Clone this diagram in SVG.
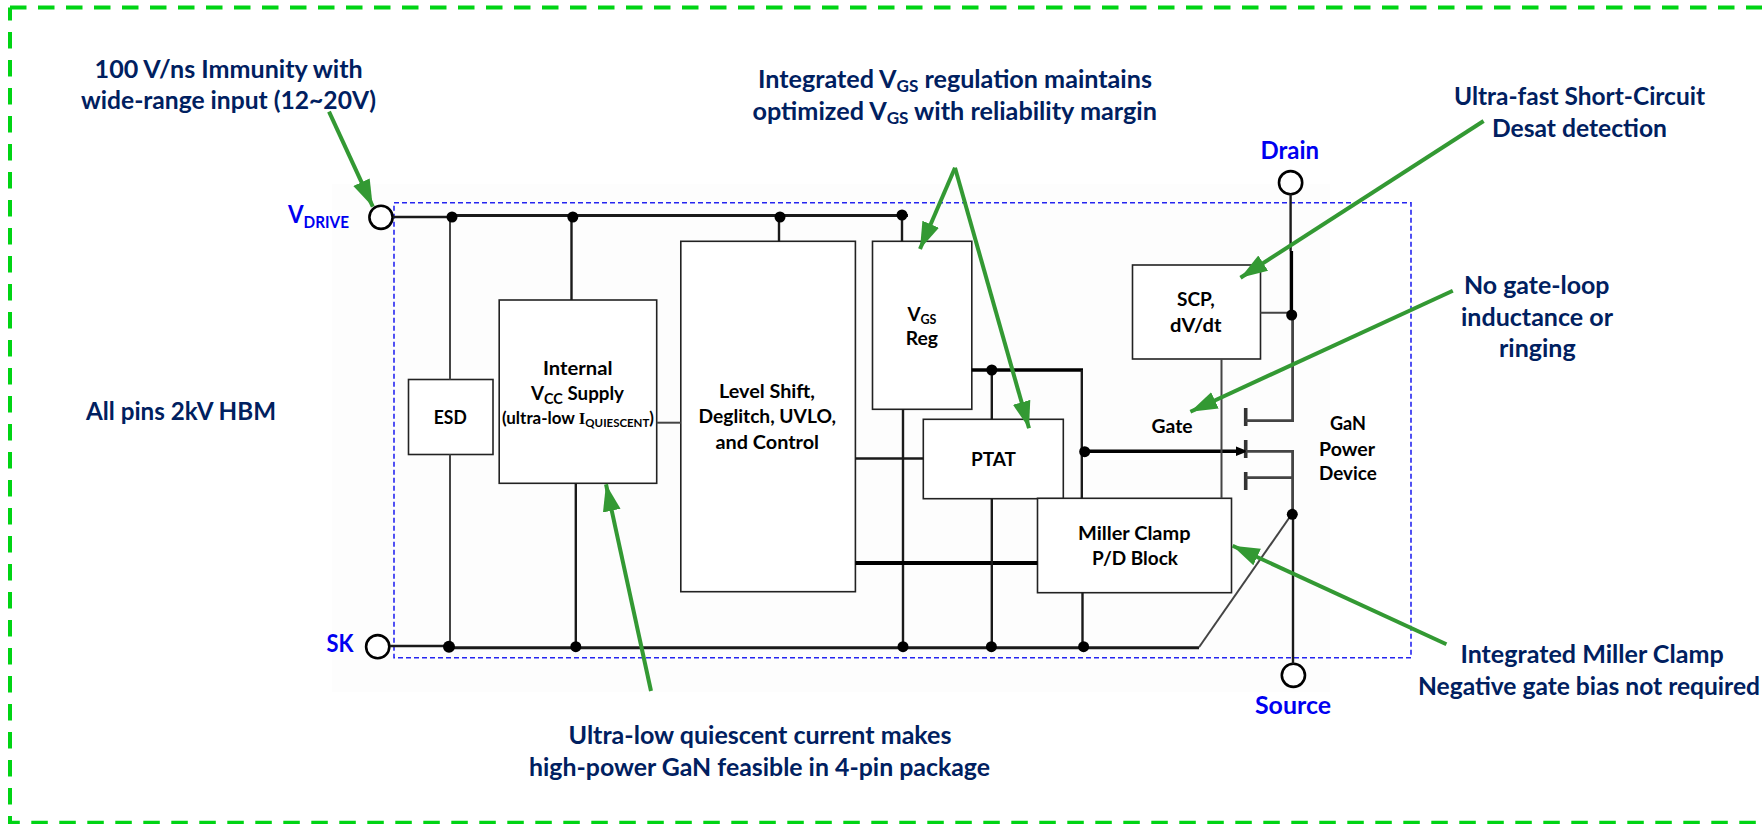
<svg xmlns="http://www.w3.org/2000/svg" width="1762" height="824" viewBox="0 0 1762 824">
<style>
text{font-family:Lato,"Liberation Sans",sans-serif;font-weight:700}
.note{font-size:25px;fill:#002060}
.pin{font-size:25px;fill:#0000f0}
.lbl{font-size:19.5px;fill:#000}
.box{fill:#fff;stroke:#222;stroke-width:1.6}
.ring{fill:#fff;stroke:#000;stroke-width:2.6}
.w{fill:none;stroke:#1a1a1a;stroke-width:2.4}
.r{fill:none;stroke:#1a1a1a;stroke-width:3}
.g{fill:none;stroke:#444;stroke-width:2}
.t{fill:none;stroke:#000;stroke-width:3.4}
.bar{fill:none;stroke:#333;stroke-width:3.6}
.d{fill:#000}
.a{fill:none;stroke:#339933;stroke-width:4;marker-end:url(#ah)}
.edge{fill:none;stroke:#00d414;stroke-width:4;stroke-dasharray:16.5 11.5}
</style>
<defs>
<marker id="ah" markerUnits="userSpaceOnUse" markerWidth="28" markerHeight="20" refX="27" refY="10" orient="auto">
<path d="M0 1L27 10L0 19z" fill="#339933"/>
</marker>
</defs>
<rect x="332" y="184" width="998" height="508" fill="#fdfdfd"/>
<path class="edge" d="M10 7.5H1762"/>
<path class="edge" d="M10 7.5V822.7H1762" stroke-dashoffset="3.5"/>
<rect x="394" y="202.7" width="1017" height="455" fill="none" stroke="#2626f0" stroke-width="1.6" stroke-dasharray="5 3"/>

<g id="pin-vdrive">
<circle class="ring" cx="381" cy="217.3" r="11.6"/>
<text class="pin" x="288" y="222.7" textLength="61" lengthAdjust="spacingAndGlyphs">V<tspan font-size="17" dy="5.5">DRIVE</tspan></text>
</g>
<g id="pin-sk">
<circle class="ring" cx="377.7" cy="646.7" r="11.6"/>
<text class="pin" x="326.6" y="651.7" textLength="27" lengthAdjust="spacingAndGlyphs">SK</text>
</g>
<g id="pin-drain">
<circle class="ring" cx="1290.6" cy="182.7" r="11.6"/>
<text class="pin" x="1260.5" y="159.3" textLength="58.5" lengthAdjust="spacingAndGlyphs">Drain</text>
</g>
<g id="pin-source">
<circle class="ring" cx="1293.4" cy="675.3" r="11.6"/>
<text class="pin" x="1255" y="714.3" textLength="76" lengthAdjust="spacingAndGlyphs">Source</text>
</g>

<g id="esd">
<rect class="box" x="408.5" y="379.5" width="84.5" height="75"/>
<text class="lbl" x="433.8" y="424" textLength="33" lengthAdjust="spacingAndGlyphs">ESD</text>
</g>
<g id="vcc-supply">
<rect class="box" x="499.2" y="300" width="157.5" height="183.3"/>
<text class="lbl" x="543" y="375" textLength="69.5" lengthAdjust="spacingAndGlyphs">Internal</text>
<text class="lbl" x="531" y="400" textLength="93" lengthAdjust="spacingAndGlyphs">V<tspan font-size="15" dy="4">CC</tspan><tspan dy="-4"> Supply</tspan></text>
<text class="lbl" x="502" y="424.3" textLength="152" lengthAdjust="spacingAndGlyphs" style="font-size:17px">(ultra-low <tspan font-family="'Liberation Serif',serif">I</tspan><tspan font-size="11.5" dy="3">QUIESCENT</tspan><tspan dy="-3">)</tspan></text>
</g>
<g id="level-shift">
<rect class="box" x="680.8" y="241.3" width="174.6" height="350.4"/>
<text class="lbl" x="719" y="397.7" textLength="96" lengthAdjust="spacingAndGlyphs">Level Shift,</text>
<text class="lbl" x="698.6" y="423.3" textLength="137.4" lengthAdjust="spacingAndGlyphs">Deglitch, UVLO,</text>
<text class="lbl" x="715.5" y="449" textLength="103.5" lengthAdjust="spacingAndGlyphs">and Control</text>
</g>
<g id="vgs-reg">
<rect class="box" x="872.5" y="241.3" width="99.3" height="168"/>
<text class="lbl" x="907.5" y="320.7" textLength="29" lengthAdjust="spacingAndGlyphs">V<tspan font-size="13" dy="3">GS</tspan></text>
<text class="lbl" x="905.7" y="345" textLength="32.3" lengthAdjust="spacingAndGlyphs">Reg</text>
</g>
<g id="ptat">
<rect class="box" x="923.3" y="419.3" width="140" height="79.4"/>
<text class="lbl" x="971" y="465.7" textLength="45" lengthAdjust="spacingAndGlyphs">PTAT</text>
</g>
<g id="miller-clamp">
<rect class="box" x="1037.5" y="498.3" width="194" height="94.4"/>
<text class="lbl" x="1078" y="540" textLength="112.5" lengthAdjust="spacingAndGlyphs">Miller Clamp</text>
<text class="lbl" x="1092" y="565" textLength="86" lengthAdjust="spacingAndGlyphs">P/D Block</text>
</g>
<g id="scp">
<rect class="box" x="1132.5" y="265" width="128" height="94"/>
<text class="lbl" x="1177" y="305.7" textLength="37.6" lengthAdjust="spacingAndGlyphs">SCP,</text>
<text class="lbl" x="1170" y="331.7" textLength="51.4" lengthAdjust="spacingAndGlyphs">dV/dt</text>
</g>
<g id="gan-device">
<text class="lbl" x="1151.6" y="432.7" textLength="41" lengthAdjust="spacingAndGlyphs">Gate</text>
<text class="lbl" x="1330" y="430" textLength="36" lengthAdjust="spacingAndGlyphs">GaN</text>
<text class="lbl" x="1319" y="455.7" textLength="56" lengthAdjust="spacingAndGlyphs">Power</text>
<text class="lbl" x="1319" y="480" textLength="57.7" lengthAdjust="spacingAndGlyphs">Device</text>
<path class="bar" d="M1245.7 408V426M1245.7 440V458M1245.7 472V490"/>
</g>

<g id="note-immunity">
<text class="note" x="94.6" y="77.7" textLength="268" lengthAdjust="spacingAndGlyphs">100 V/ns Immunity with</text>
<text class="note" x="81" y="109" textLength="295" lengthAdjust="spacingAndGlyphs">wide-range input (12~20V)</text>
</g>
<g id="note-hbm">
<text class="note" x="86" y="420" textLength="190" lengthAdjust="spacingAndGlyphs">All pins 2kV HBM</text>
</g>
<g id="note-vgs">
<text class="note" x="758" y="87.7" textLength="394" lengthAdjust="spacingAndGlyphs">Integrated V<tspan font-size="17" dy="4">GS</tspan><tspan dy="-4"> regulation maintains</tspan></text>
<text class="note" x="752.5" y="120" textLength="404.5" lengthAdjust="spacingAndGlyphs">optimized V<tspan font-size="17" dy="4">GS</tspan><tspan dy="-4"> with reliability margin</tspan></text>
</g>
<g id="note-scp">
<text class="note" x="1454" y="105" textLength="251" lengthAdjust="spacingAndGlyphs">Ultra-fast Short-Circuit</text>
<text class="note" x="1492" y="136.7" textLength="175" lengthAdjust="spacingAndGlyphs">Desat detection</text>
</g>
<g id="note-gate">
<text class="note" x="1464" y="294.3" textLength="145.5" lengthAdjust="spacingAndGlyphs">No gate-loop</text>
<text class="note" x="1461" y="326" textLength="152" lengthAdjust="spacingAndGlyphs">inductance or</text>
<text class="note" x="1499" y="357.3" textLength="76.7" lengthAdjust="spacingAndGlyphs">ringing</text>
</g>
<g id="note-miller">
<text class="note" x="1460.4" y="663" textLength="263.3" lengthAdjust="spacingAndGlyphs">Integrated Miller Clamp</text>
<text class="note" x="1418" y="695" textLength="342" lengthAdjust="spacingAndGlyphs">Negative gate bias not required</text>
</g>
<g id="note-quiescent">
<text class="note" x="568.5" y="744" textLength="383" lengthAdjust="spacingAndGlyphs">Ultra-low quiescent current makes</text>
<text class="note" x="529" y="775.7" textLength="461" lengthAdjust="spacingAndGlyphs">high-power GaN feasible in 4-pin package</text>
</g>

<g id="connectors">
<path class="w" d="M393 217H452"/>
<path class="r" d="M452 215.5H908"/>
<path class="g" d="M450 217V379.5M450 454.5V646"/>
<path class="w" d="M571.5 217V300M575.8 483.3V646M779 215V241.3M902 215V241.3M903 409.3V646.7"/>
<path class="w" d="M390 646H449"/>
<path class="r" d="M449 647.7H1199"/>
<path class="g" d="M1199 647.3L1291.7 514.3"/>
<path class="g" stroke-width="3" d="M656.7 422.7H680.8"/>
<path class="w" d="M855.4 458.5H923.3"/>
<path class="t" style="stroke-width:4" d="M855.4 563H1037.5"/>
<path class="t" d="M971.8 370H1083"/>
<path class="w" d="M1081.8 370V498.3"/>
<path class="w" d="M991.8 370V419.3M991.8 498.7V646.7M1082.5 592.7V646.7"/>
<path class="t" d="M1084.7 451.3H1240"/>
<path d="M1248 451.3L1236 446.5V456z" fill="#000"/>
<path class="g" d="M1221.5 359V498.3M1260.5 312.7H1291"/>
<path class="w" d="M1290.6 194V251"/>
<path class="t" d="M1291.4 251V315"/>
<path class="g" style="stroke-width:2.8" d="M1292.6 315V420.7H1245.7M1245.7 477.7H1292.6M1245.7 451.3H1292.6V514"/>
<path class="w" d="M1293 514V664"/>
<ellipse class="d" cx="452" cy="217" rx="5.5" ry="5.5"/>
<ellipse class="d" cx="572.8" cy="217" rx="5.5" ry="5.5"/>
<ellipse class="d" cx="780" cy="217" rx="5.5" ry="5.5"/>
<ellipse class="d" cx="902" cy="215" rx="5.5" ry="5.5"/>
<ellipse class="d" cx="449" cy="646.7" rx="6" ry="6"/>
<ellipse class="d" cx="575.8" cy="646.7" rx="5.5" ry="5.5"/>
<ellipse class="d" cx="903" cy="646.7" rx="5.5" ry="5.5"/>
<ellipse class="d" cx="991.4" cy="646.7" rx="5.5" ry="5.5"/>
<ellipse class="d" cx="1083.6" cy="646.7" rx="5.5" ry="5.5"/>
<ellipse class="d" cx="991.8" cy="370" rx="5.5" ry="5.5"/>
<ellipse class="d" cx="1084.7" cy="451.7" rx="5.5" ry="5.5"/>
<ellipse class="d" cx="1291.7" cy="315" rx="5.5" ry="5.5"/>
<ellipse class="d" cx="1292.3" cy="514.3" rx="5.5" ry="5.5"/>
<path class="a" d="M329 111.7L372.8 206.7"/>
<path class="a" d="M651 691L606 484.3"/>
<path class="a" d="M955 167.7L920 249"/>
<path class="a" d="M955 167.7L1029 428.3"/>
<path class="a" d="M1483.6 121L1240.5 277.7"/>
<path class="a" d="M1452.8 290.7L1190.4 411.7"/>
<path class="a" d="M1446.4 644.3L1232.6 545.7"/>
</g>
</svg>
